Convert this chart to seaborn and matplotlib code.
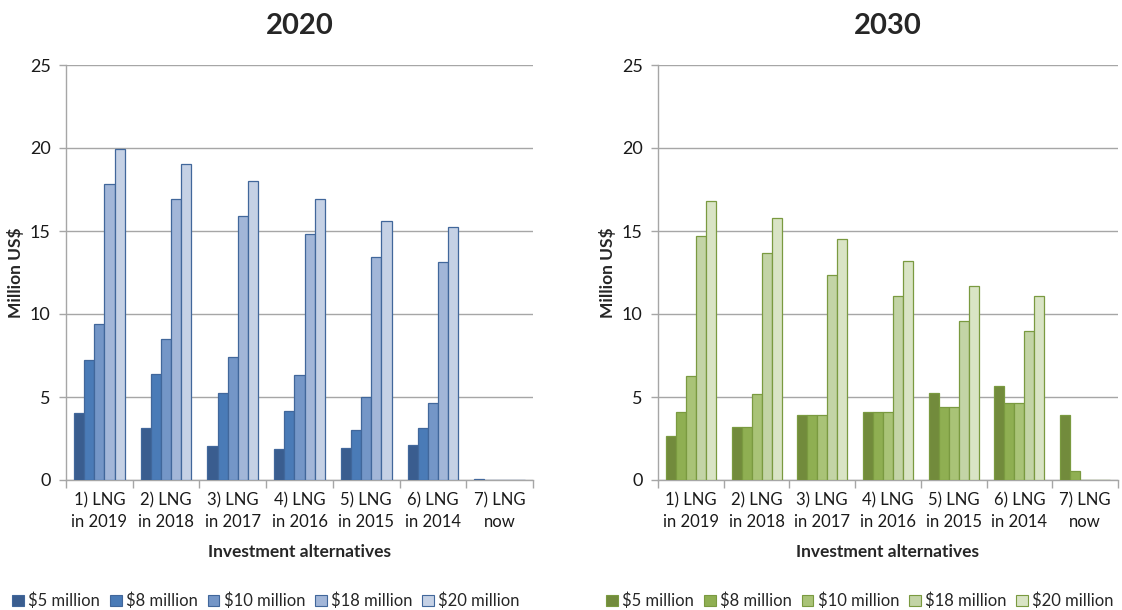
import matplotlib
matplotlib.use("Agg")
import matplotlib.pyplot as plt
from matplotlib.patches import Patch
from matplotlib.ticker import FixedLocator
import numpy as np
import pandas as pd
import seaborn as sns

# Investment alternatives (x categories)
alternatives = ["1) LNG\nin 2019", "2) LNG\nin 2018", "3) LNG\nin 2017",
                "4) LNG\nin 2016", "5) LNG\nin 2015", "6) LNG\nin 2014",
                "7) LNG\nnow"]
scenarios = ["$5 million", "$8 million", "$10 million", "$18 million", "$20 million"]

# Values in million US$, 2020
y2020_5 = [4.04, 3.15, 2.07, 1.85, 1.95, 2.11, 0.05]
y2020_8 = [7.23, 6.37, 5.26, 4.18, 2.99, 3.15, 0.0]
y2020_10 = [9.38, 8.47, 7.39, 6.31, 5.02, 4.64, 0.0]
y2020_18 = [17.81, 16.91, 15.88, 14.80, 13.45, 13.13, 0.0]
y2020_20 = [19.92, 19.06, 17.99, 16.91, 15.58, 15.26, 0.0]

# Values in million US$, 2030
y2030_5 = [2.63, 3.19, 3.92, 4.12, 5.22, 5.68, 3.92]
y2030_8 = [4.12, 3.19, 3.92, 4.12, 4.38, 4.64, 0.56]
y2030_10 = [6.24, 5.16, 3.92, 4.12, 4.38, 4.64, 0.0]
y2030_18 = [14.68, 13.65, 12.37, 11.06, 9.56, 8.96, 0.0]
y2030_20 = [16.81, 15.76, 14.50, 13.17, 11.69, 11.06, 0.0]

blues = ["#3a5d8f", "#4a7bb7", "#7496c7", "#a2b6d8", "#c5d1e5"]
blue_edge = "#41679b"
greens = ["#728b3c", "#8faf52", "#a9c377", "#c3d4a6", "#d9e4c5"]
green_edge = "#7a9a40"

sns.set_theme(style="white")
plt.rcParams["font.family"] = ["Lato", "DejaVu Sans"]


def long_frame(series):
    rows = []
    for name, vals in zip(scenarios, series):
        for alt, v in zip(alternatives, vals):
            rows.append({"alt": alt, "scenario": name, "value": v})
    return pd.DataFrame(rows)


fig = plt.figure(figsize=(11.22, 6.10), dpi=100)
ax1 = fig.add_axes([66 / 1122, 130 / 610, 467 / 1122, 415 / 610])
ax2 = fig.add_axes([658 / 1122, 130 / 610, 460 / 1122, 415 / 610])

panels = [
    (ax1, "2020", [y2020_5, y2020_8, y2020_10, y2020_18, y2020_20], blues, blue_edge, 266),
    (ax2, "2030", [y2030_5, y2030_8, y2030_10, y2030_18, y2030_20], greens, green_edge, 860),
]

grid_c = "#a6a6a6"
for ax, title, series, pal, edge, leg_x in panels:
    df = long_frame(series)
    sns.barplot(data=df, x="alt", y="value", hue="scenario", order=alternatives,
                hue_order=scenarios, palette=pal, width=0.76, gap=0,
                edgecolor=edge, linewidth=0.9, saturation=1, legend=False, ax=ax,
                zorder=3)
    ax.set_xlim(-0.5, len(alternatives) - 0.5)
    ax.set_ylim(0, 25)
    ax.set_yticks(np.arange(0, 26, 5))
    ax.yaxis.grid(True, color=grid_c, linewidth=1.0, zorder=0)
    ax.set_axisbelow(True)
    for s in ["top", "right"]:
        ax.spines[s].set_visible(False)
    ax.spines["left"].set_color(grid_c)
    ax.spines["bottom"].set_color(grid_c)
    ax.spines["left"].set_linewidth(1.0)
    ax.spines["bottom"].set_linewidth(1.0)

    ax.tick_params(axis="y", which="major", length=5, color=grid_c, width=1.0,
                   labelsize=13, labelcolor="#1a1a1a", pad=6, left=True)
    ax.tick_params(axis="x", which="major", length=0, labelsize=12,
                   labelcolor="#1a1a1a", pad=9)
    for lbl in ax.get_xticklabels():
        lbl.set_linespacing(1.45)
    ax.xaxis.set_minor_locator(FixedLocator(np.arange(-0.5, len(alternatives), 1.0)))
    ax.tick_params(axis="x", which="minor", length=6, color=grid_c, width=1.0,
                   bottom=True)

    ax.set_title(title, fontsize=21, fontweight="bold", pad=22)
    ax.set_xlabel("Investment alternatives", fontsize=12.5, fontweight="bold",
                  labelpad=10)
    ax.set_ylabel("Million US$", fontsize=12.5, fontweight="bold", labelpad=4)

    handles = [Patch(facecolor=c, edgecolor=edge, linewidth=0.8) for c in pal]
    fig.legend(handles, scenarios, loc="center", ncol=5, frameon=False,
               bbox_to_anchor=(leg_x / 1122, 9 / 610), fontsize=12,
               handlelength=0.7, handleheight=0.7, handletextpad=0.25,
               columnspacing=0.6, borderaxespad=0, borderpad=0)

fig.savefig("out.png", dpi=100)
